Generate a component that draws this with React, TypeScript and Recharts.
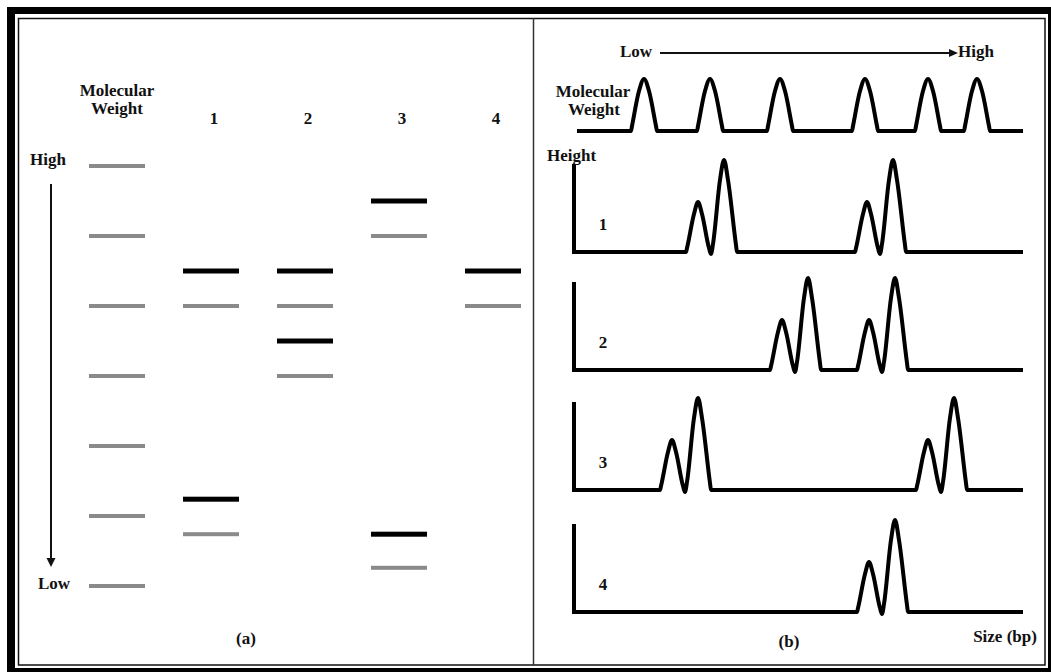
import React from 'react';
import { ScatterChart, Scatter, XAxis, YAxis, LineChart, Line, ReferenceLine } from 'recharts';

const FONT = '"Liberation Serif", "Times New Roman", serif';

// ---------- Panel (a): gel lanes ----------
const laneLabels = ['Molecular Weight', '1', '2', '3', '4'];
const laneTicks = [0, 1, 2, 3, 4];
// band positions, in ladder-step units (1 = top ladder band, 7 = bottom)
const ladderBands = [1, 2, 3, 4, 5, 6, 7];
const lane1Black = [2.5, 5.76];
const lane1Gray = [3, 6.26];
const lane2Black = [2.5, 3.5];
const lane2Gray = [3, 4];
const lane3Black = [1.5, 6.26];
const lane3Gray = [2, 6.74];
const lane4Black = [2.5];
const lane4Gray = [3];

const grayBands = [
  ...ladderBands.map((pos) => ({ lane: 0, pos })),
  ...lane1Gray.map((pos) => ({ lane: 1, pos })),
  ...lane2Gray.map((pos) => ({ lane: 2, pos })),
  ...lane3Gray.map((pos) => ({ lane: 3, pos })),
  ...lane4Gray.map((pos) => ({ lane: 4, pos })),
];
const blackBands = [
  ...lane1Black.map((pos) => ({ lane: 1, pos })),
  ...lane2Black.map((pos) => ({ lane: 2, pos })),
  ...lane3Black.map((pos) => ({ lane: 3, pos })),
  ...lane4Black.map((pos) => ({ lane: 4, pos })),
];

// ---------- Panel (b): electropherogram traces [size, height] ----------
const mwTrace: [number, number][] = [
  [3, 0], [57, 0], [58, 5], [65, 40], [70, 52], [75, 40], [82, 5], [83, 0],
  [123, 0], [124, 5], [131, 40], [136, 52], [141, 40], [148, 5], [149, 0],
  [193, 0], [194, 5], [201, 40], [206, 52], [211, 40], [218, 5], [219, 0],
  [278, 0], [279, 5], [286, 40], [291, 52], [296, 40], [303, 5], [304, 0],
  [341, 0], [342, 5], [349, 40], [354, 52], [359, 40], [366, 5], [367, 0],
  [390, 0], [391, 5], [398, 40], [403, 52], [408, 40], [415, 5], [416, 0],
  [449, 0],
];
const trace1: [number, number][] = [
  [0, 0],
  [112, 0], [113, 4], [120, 38], [124, 50], [128, 38], [135, 4], [137, -2], [139, 8], [146, 72], [150, 92], [154, 72], [162, 7], [163, 0],
  [281, 0], [282, 4], [289, 38], [293, 50], [297, 38], [304, 4], [306, -2], [308, 8], [315, 72], [319, 92], [323, 72], [331, 7], [332, 0],
  [449, 0],
];
const trace2: [number, number][] = [
  [0, 0],
  [196, 0], [197, 4], [204, 38], [208, 50], [212, 38], [219, 4], [221, -2], [223, 8], [230, 72], [234, 92], [238, 72], [246, 7], [247, 0],
  [283, 0], [284, 4], [291, 38], [295, 50], [299, 38], [306, 4], [308, -2], [310, 8], [317, 72], [321, 92], [325, 72], [333, 7], [334, 0],
  [449, 0],
];
const trace3: [number, number][] = [
  [0, 0],
  [86, 0], [87, 4], [94, 38], [98, 50], [102, 38], [109, 4], [111, -2], [113, 8], [120, 72], [124, 92], [128, 72], [136, 7], [137, 0],
  [342, 0], [343, 4], [350, 38], [354, 50], [358, 38], [365, 4], [367, -2], [369, 8], [376, 72], [380, 92], [384, 72], [392, 7], [393, 0],
  [449, 0],
];
const trace4: [number, number][] = [
  [0, 0],
  [283, 0], [284, 4], [291, 38], [295, 50], [299, 38], [306, 4], [308, -2], [310, 8], [317, 72], [321, 92], [325, 72], [333, 7], [334, 0],
  [449, 0],
];
const traceLabels = ['1', '2', '3', '4'];
const heightAxisTop = 86;

const toRows = (t: [number, number][]) => t.map(([size, height]) => ({ size, height }));

const textStyle: React.CSSProperties = {};

const bandShape = (color: string, thick: number) => (props: any) => (
  <rect x={props.cx - 28} y={props.cy - thick / 2} width={56} height={thick} fill={color} />
);

const LaneTick = (props: any) => {
  const { x, y, payload } = props;
  const idx = Number(payload.value);
  const label = laneLabels[idx];
  if (idx === 0) {
    const [a, b] = label.split(' ');
    return (
      <g>
        <text x={x} y={y - 62} textAnchor="middle" fontFamily={FONT} fontWeight="bold" fontSize={17} fill="#111">{a}</text>
        <text x={x} y={y - 44} textAnchor="middle" fontFamily={FONT} fontWeight="bold" fontSize={17} fill="#111">{b}</text>
      </g>
    );
  }
  return (
    <text x={x + 3} y={y - 34} textAnchor="middle" fontFamily={FONT} fontWeight="bold" fontSize={17} fill="#111">{label}</text>
  );
};

function Trace({ data, top, withAxis }: { data: [number, number][]; top: number; withAxis: boolean }) {
  return (
    <div style={{ position: 'absolute', left: 564, top }}>
      <LineChart width={470} height={120} data={toRows(data)} margin={{ top: 5, right: 10, bottom: 5, left: 10 }}>
        <XAxis type="number" dataKey="size" domain={[0, 450]} hide />
        <YAxis type="number" domain={[-10, 100]} hide />
        {withAxis && (
          <ReferenceLine
            segment={[{ x: 0, y: 0 }, { x: 0, y: heightAxisTop }]}
            stroke="#000"
            strokeWidth={4}
            strokeLinecap="square"
          />
        )}
        <Line
          dataKey="height"
          type="monotone"
          stroke="#000"
          strokeWidth={4}
          strokeLinejoin="round"
          dot={false}
          activeDot={false}
          isAnimationActive={false}
        />
      </LineChart>
    </div>
  );
}

const T = (p: { x: number; y: number; anchor?: 'start' | 'middle' | 'end'; children: React.ReactNode }) => (
  <text x={p.x} y={p.y} textAnchor={p.anchor || 'middle'} fontFamily={FONT} fontWeight="bold" fontSize={17} fill="#111">
    {p.children}
  </text>
);

export default function App() {
  const baselines = [252, 370, 490, 612];
  const traces = [trace1, trace2, trace3, trace4];
  return (
    <div style={{ position: 'absolute', left: 0, top: 0, width: 1051, height: 672, background: '#fff', overflow: 'hidden' }}>
      {/* Panel (a) gel */}
      <div style={{ position: 'absolute', left: 0, top: 0 }}>
        <ScatterChart width={540} height={672} margin={{ top: 136, right: 47, bottom: 86, left: 117 }}>
          <XAxis
            type="number"
            dataKey="lane"
            orientation="top"
            height={30}
            domain={[0, 4]}
            ticks={laneTicks}
            axisLine={false}
            tickLine={false}
            tick={<LaneTick />}
            interval={0}
          />
          <YAxis type="number" dataKey="pos" domain={[1, 7]} reversed hide />
          <Scatter data={grayBands} shape={bandShape('#8a8a8a', 4)} isAnimationActive={false} />
          <Scatter data={blackBands} shape={bandShape('#000', 5)} isAnimationActive={false} />
        </ScatterChart>
      </div>

      {/* Panel (b) traces */}
      <Trace data={mwTrace} top={131 - 105} withAxis={false} />
      {traces.map((t, i) => (
        <Trace key={i} data={t} top={baselines[i] - 105} withAxis />
      ))}

      {/* Frame and annotations */}
      <svg width={1051} height={672} style={{ position: 'absolute', left: 0, top: 0, pointerEvents: 'none' }}>
        <rect x={7} y={7} width={8} height={665} fill="#000" />
        <rect x={7} y={7} width={1044} height={7} fill="#000" />
        <rect x={1048} y={7} width={4} height={665} fill="#000" />
        <rect x={7} y={668} width={1044} height={4} fill="#000" />
        <rect x={18.5} y={18.5} width={1026.5} height={646.5} fill="none" stroke="#111" strokeWidth={1.5} />
        <line x1={533.5} y1={18} x2={533.5} y2={665} stroke="#333" strokeWidth={1.5} />

        {/* panel (a) annotations */}
        <T x={48} y={165}>High</T>
        <line x1={51} y1={184} x2={51} y2={560} stroke="#111" strokeWidth={2} />
        <polygon points="46.5,558 55.5,558 51,567" fill="#111" />
        <T x={54} y={589}>Low</T>
        <T x={246} y={644}>(a)</T>

        {/* panel (b) annotations */}
        <T x={636} y={57}>Low</T>
        <line x1={660} y1={53} x2={950} y2={53} stroke="#111" strokeWidth={2} />
        <polygon points="949,49 949,57 958,53" fill="#111" />
        <T x={958} y={57} anchor="start">High</T>
        <T x={593} y={97}>Molecular</T>
        <T x={594} y={115}>Weight</T>
        <T x={547} y={161} anchor="start">Height</T>
        {traceLabels.map((l, i) => (
          <T key={l} x={603} y={baselines[i] - 22}>{l}</T>
        ))}
        <T x={1005} y={642}>Size (bp)</T>
        <T x={789} y={647}>(b)</T>
      </svg>
    </div>
  );
}
